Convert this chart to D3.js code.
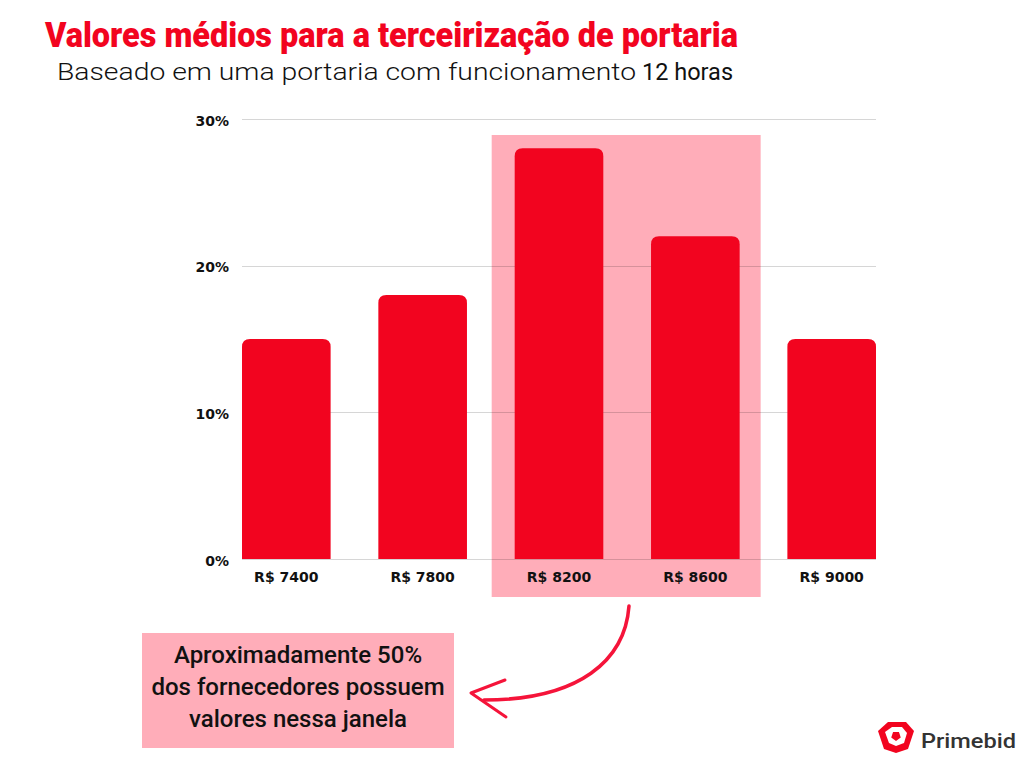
<!DOCTYPE html>
<html>
<head>
<meta charset="utf-8">
<script src="https://cdn.jsdelivr.net/npm/d3@7"></script>
<style>
  html, body { margin: 0; padding: 0; background: #fff; }
  svg { display: block; }
</style>
</head>
<body>
<svg id="chart" width="1024" height="768"></svg>
<script>
const categories = ["R$ 7400", "R$ 7800", "R$ 8200", "R$ 8600", "R$ 9000"];
const values = [15, 18, 28, 22, 15];
const yTicks = [0, 10, 20, 30];
const highlighted = ["R$ 8200", "R$ 8600"];
const titleText = "Valores médios para a terceirização de portaria";
const subtitleText = "Baseado em uma portaria com funcionamento";
const subtitleBold = "12 horas";
const noteLines = ["Aproximadamente 50%", "dos fornecedores possuem", "valores nessa janela"];

const svg = d3.select("#chart");
const RED = "#f2041f";
const PINK = "#ffadb9";
const FONT = "Roboto, 'Noto Sans', sans-serif";
const AXFONT = "'DejaVu Sans', sans-serif";

const x = d3.scaleBand().domain(categories).range([242, 876]).paddingInner(0.35).paddingOuter(0);
const y = d3.scaleLinear().domain([0, 30]).range([559, 119]);

// Highlight window
const hx0 = x(highlighted[0]) - 23;
const hx1 = x(highlighted[highlighted.length - 1]) + x.bandwidth() + 21;
svg.append("rect").attr("x", hx0).attr("y", 135).attr("width", hx1 - hx0).attr("height", 462).attr("fill", PINK);

// Gridlines
svg.append("g").selectAll("line").data(yTicks).join("line")
  .attr("x1", 242).attr("x2", 876)
  .attr("y1", d => Math.round(y(d)) + 0.5).attr("y2", d => Math.round(y(d)) + 0.5)
  .attr("stroke", "#000").attr("stroke-opacity", 0.16).attr("stroke-width", 1);

// Y axis labels
const yAxis = d3.axisLeft(y).tickValues(yTicks).tickFormat(d => d + "%").tickSize(0).tickPadding(0);
const yg = svg.append("g").attr("transform", "translate(229,0)").call(yAxis);
yg.select(".domain").remove();
yg.selectAll("text").attr("font-family", AXFONT).attr("font-weight", 700).attr("font-size", 14).attr("fill", "#111").attr("dy", "0.45em");

// X axis labels
const xAxis = d3.axisBottom(x).tickSize(0).tickPadding(0);
const xg = svg.append("g").attr("transform", "translate(0,572)").call(xAxis);
xg.select(".domain").remove();
xg.selectAll("text").attr("font-family", AXFONT).attr("font-weight", 700).attr("font-size", 14).attr("fill", "#111");

// Bars with rounded tops
const r = 8;
function barPath(d, i) {
  const x0 = x(categories[i]), w = x.bandwidth(), y0 = y(d), yb = y(0);
  return `M${x0},${yb} L${x0},${y0 + r} Q${x0},${y0} ${x0 + r},${y0} L${x0 + w - r},${y0} Q${x0 + w},${y0} ${x0 + w},${y0 + r} L${x0 + w},${yb} Z`;
}
svg.append("g").selectAll("path").data(values).join("path")
  .attr("d", barPath).attr("fill", RED);

// Title
svg.append("text").attr("x", 45).attr("y", 47)
  .attr("font-family", FONT).attr("font-weight", 900).attr("font-size", 35)
  .attr("fill", RED).attr("textLength", 693).attr("lengthAdjust", "spacingAndGlyphs")
  .text(titleText);

// Subtitle
svg.append("text").attr("x", 57).attr("y", 80)
  .attr("font-family", FONT).attr("font-weight", 300).attr("font-size", 23.5).attr("fill", "#111")
  .attr("textLength", 579).attr("lengthAdjust", "spacingAndGlyphs")
  .text(subtitleText);
svg.append("text").attr("x", 642).attr("y", 80)
  .attr("font-family", FONT).attr("font-weight", 400).attr("font-size", 23.5).attr("fill", "#111")
  .text(subtitleBold);

// Annotation box
svg.append("rect").attr("x", 142).attr("y", 633).attr("width", 312).attr("height", 115).attr("fill", PINK);
svg.append("g").selectAll("text").data(noteLines).join("text")
  .attr("x", 298).attr("y", (d, i) => 663 + i * 32)
  .attr("text-anchor", "middle")
  .attr("font-family", FONT).attr("font-weight", 500).attr("font-size", 24).attr("fill", "#111")
  .text(d => d);

// Curved arrow
svg.append("path")
  .attr("d", "M629,606 C625,660 580,700 484,700")
  .attr("fill", "none").attr("stroke", "#f5143a").attr("stroke-width", 3.5).attr("stroke-linecap", "round");
svg.append("path")
  .attr("d", "M505,680 L471,693 L506,717")
  .attr("fill", "none").attr("stroke", "#f5143a").attr("stroke-width", 3).attr("stroke-linecap", "round").attr("stroke-linejoin", "round");

// Logo
const logo = svg.append("g").attr("transform", "translate(896,737)");
const pent = (rad) => d3.range(5).map(k => {
  const a = -Math.PI / 2 + k * 2 * Math.PI / 5 + Math.PI / 5;
  return [rad * Math.cos(a), rad * Math.sin(a)];
});
logo.append("path").attr("d", "M-18,-6 L-8,-15 L10,-15 L18,-6 L12,12 L0,16 L-12,12 Z").attr("fill", RED);
logo.append("path").attr("d", "M-11,-5 L-4,-10 L6,-10 L11,-4 L8,6 L0,9 L-7,6 Z").attr("fill", "#fff");
logo.append("polygon").attr("points", pent(5).map(p => p.join(",")).join(" ")).attr("fill", RED).attr("transform", "translate(0,-1)");
svg.append("text").attr("x", 921).attr("y", 748)
  .attr("font-family", FONT).attr("font-weight", 500).attr("font-size", 21).attr("fill", "#333")
  .attr("textLength", 95).attr("lengthAdjust", "spacingAndGlyphs")
  .text("Primebid");
</script>
</body>
</html>
